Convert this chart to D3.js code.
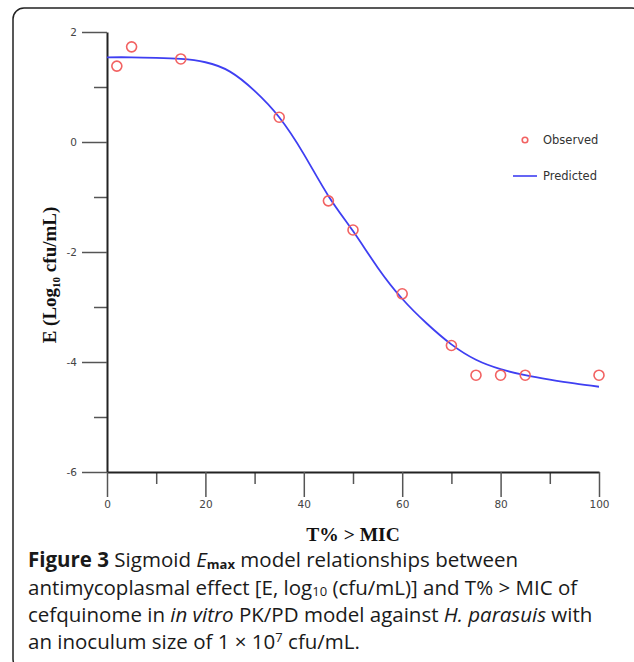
<!DOCTYPE html>
<html>
<head>
<meta charset="utf-8">
<script src="https://cdn.jsdelivr.net/npm/d3@7"></script>
<style>
  body { margin: 0; background: #fff; }
  svg { display: block; }
</style>
</head>
<body>
<svg id="chart"></svg>
<script>
// observed points (T% > MIC, E)
const obsX = [2, 5, 15, 35, 45, 50, 60, 70, 75, 80, 85, 100];
const obsY = [1.38, 1.73, 1.51, 0.45, -1.07, -1.6, -2.76, -3.7, -4.24, -4.24, -4.24, -4.24];

// predicted curve
const predX = [0, 5, 10, 15, 20, 25, 30, 35, 40, 45, 50, 55, 60, 65, 70, 75, 80, 85, 90, 95, 100];
const predY = [1.54, 1.54, 1.53, 1.51, 1.45, 1.28, 0.93, 0.45, -0.22, -0.98, -1.62, -2.28, -2.85, -3.3, -3.68, -3.96, -4.13, -4.24, -4.32, -4.39, -4.45];

const xMajor = [0, 20, 40, 60, 80, 100];
const xMinor = [10, 30, 50, 70, 90];
const yMajor = [-6, -4, -2, 0, 2];
const yMinor = [-5, -3, -1, 1];

const W = 634, H = 662;
const svg = d3.select("#chart").attr("width", W).attr("height", H);

// rounded frame (runs off right and bottom)
svg.append("rect")
  .attr("x", 13).attr("y", 8)
  .attr("width", 630).attr("height", 662)
  .attr("rx", 11)
  .attr("fill", "none")
  .attr("stroke", "#222")
  .attr("stroke-width", 1.5);

const x = d3.scaleLinear().domain([0, 100]).range([107, 599]);
const y = d3.scaleLinear().domain([-6, 2]).range([472, 32]);

const tickFont = "'DejaVu Sans', sans-serif";
const plain = d => String(d);

// minor ticks first so the axis line sits on top
svg.append("g")
  .attr("transform", `translate(${x(0)},0)`)
  .call(d3.axisLeft(y).tickValues(yMinor).tickSize(13).tickSizeOuter(0).tickFormat(""))
  .call(g => g.select(".domain").remove())
  .call(g => g.selectAll("line").attr("stroke", "#555").attr("stroke-width", 1.5));

svg.append("g")
  .attr("transform", `translate(0,${y(-6)})`)
  .call(d3.axisBottom(x).tickValues(xMinor).tickSize(12).tickSizeOuter(0).tickFormat(""))
  .call(g => g.select(".domain").remove())
  .call(g => g.selectAll("line").attr("stroke", "#555").attr("stroke-width", 1.5));

const yAxis = svg.append("g")
  .attr("transform", `translate(${x(0)},0)`)
  .call(d3.axisLeft(y).tickValues(yMajor).tickSize(25).tickPadding(5).tickSizeOuter(0).tickFormat(plain));
yAxis.select(".domain").attr("stroke", "#222").attr("stroke-width", 2);
yAxis.selectAll("line").attr("stroke", "#555").attr("stroke-width", 1.5);
yAxis.selectAll("text").attr("fill", "#444").style("font-family", tickFont).style("font-size", "10.5px");

const xAxis = svg.append("g")
  .attr("transform", `translate(0,${y(-6)})`)
  .call(d3.axisBottom(x).tickValues(xMajor).tickSize(25).tickPadding(4).tickSizeOuter(0).tickFormat(plain));
xAxis.select(".domain").attr("stroke", "#222").attr("stroke-width", 2);
xAxis.selectAll("line").attr("stroke", "#555").attr("stroke-width", 1.5);
xAxis.selectAll("text").attr("fill", "#444").style("font-family", tickFont).style("font-size", "10.5px");

// predicted line
const line = d3.line()
  .x((d, i) => x(predX[i]))
  .y(d => y(d))
  .curve(d3.curveNatural);

svg.append("path")
  .attr("d", line(predY))
  .attr("fill", "none")
  .attr("stroke", "#3f3ff2")
  .attr("stroke-width", 1.8);

// observed points
svg.selectAll(".obs")
  .data(obsY)
  .enter()
  .append("circle")
  .attr("class", "obs")
  .attr("cx", (d, i) => x(obsX[i]))
  .attr("cy", d => y(d))
  .attr("r", 5)
  .attr("fill", "none")
  .attr("stroke", "#f26262")
  .attr("stroke-width", 1.6);

// legend
const legend = svg.append("g").style("font-family", tickFont).style("font-size", "11.5px").attr("fill", "#333");
legend.append("circle")
  .attr("cx", 525).attr("cy", 140).attr("r", 2.8)
  .attr("fill", "none").attr("stroke", "#f26262").attr("stroke-width", 1.6);
legend.append("text").attr("x", 543).attr("y", 144).text("Observed");
legend.append("line")
  .attr("x1", 513).attr("x2", 537).attr("y1", 176).attr("y2", 176)
  .attr("stroke", "#3f3ff2").attr("stroke-width", 1.6);
legend.append("text").attr("x", 543).attr("y", 180).text("Predicted");

// axis titles
const titleFont = "'Liberation Serif', 'Times New Roman', serif";
svg.append("text")
  .attr("x", 353).attr("y", 541)
  .attr("text-anchor", "middle")
  .style("font-family", titleFont).style("font-size", "19.5px").style("font-weight", "bold")
  .attr("fill", "#111")
  .text("T% > MIC");

const yTitle = svg.append("text")
  .attr("transform", "translate(56,275) rotate(-90)")
  .attr("text-anchor", "middle")
  .style("font-family", titleFont).style("font-size", "19px").style("font-weight", "bold")
  .attr("fill", "#111");
yTitle.append("tspan").text("E (Log");
yTitle.append("tspan").attr("dy", 4).style("font-size", "11px").text("10");
yTitle.append("tspan").attr("dy", -4).text(" cfu/mL)");

// caption
const cap = svg.append("text")
  .style("font-family", "'Open Sans', sans-serif")
  .style("font-size", "20.5px")
  .attr("fill", "#1a1a1a");

const lines = [
  [["Figure 3", "b"], [" Sigmoid ", ""], ["E", "i"], ["max", "sub"], [" model relationships between", ""]],
  [["antimycoplasmal effect [E, log", ""], ["10", "sub"], [" (cfu/mL)] and T% > MIC of", ""]],
  [["cefquinome in ", ""], ["in vitro", "i"], [" PK/PD model against ", ""], ["H. parasuis", "i"], [" with", ""]],
  [["an inoculum size of 1 \u00d7 10", ""], ["7", "sup"], [" cfu/mL.", ""]]
];
const baselines = [567, 594.5, 622, 649];

lines.forEach((parts, li) => {
  let shift = 0;
  parts.forEach(([txt, st], pi) => {
    const t = cap.append("tspan").text(txt);
    if (pi === 0) t.attr("x", 28).attr("y", baselines[li]);
    let target = 0;
    if (st === "sub") target = 1.5;
    if (st === "sup") target = -7;
    t.attr("dy", target - shift);
    shift = target;
    if (st === "b") t.style("font-weight", "bold");
    if (st === "i") t.style("font-style", "italic");
    if (st === "sub" || st === "sup") t.style("font-size", "13px");
    if (st === "sub" && txt === "max") t.style("font-weight", "bold");
  });
});
</script>
</body>
</html>
